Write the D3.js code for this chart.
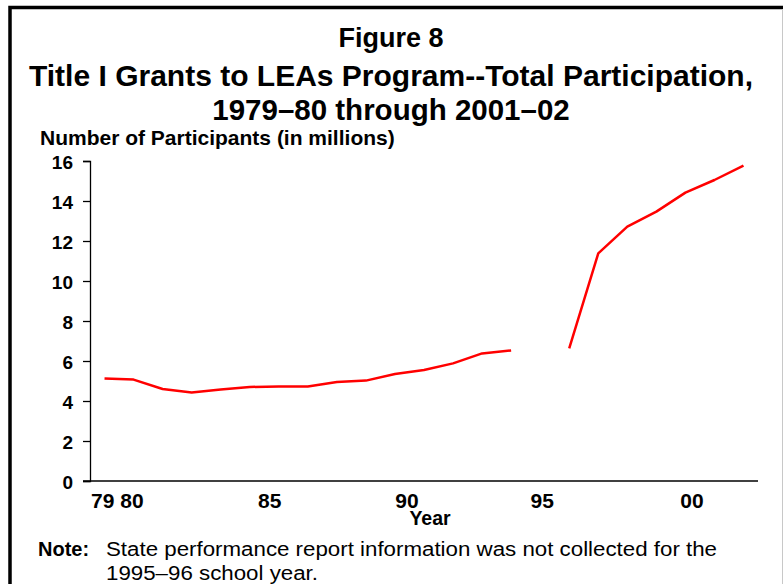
<!DOCTYPE html>
<html>
<style>
body { margin: 0; background: #fff; }
text { font-family: "Liberation Sans", Arial, sans-serif; fill: #000; }
</style>
<body>
<div id="chart"></div>
</body>
</html>

<script src="https://cdn.jsdelivr.net/npm/d3@7"></script>

<script type="text/javascript">

// school years, keyed by spring year (1980 = 1979-80)
var years = [1980, 1981, 1982, 1983, 1984, 1985, 1986, 1987, 1988, 1989, 1990, 1991,
             1992, 1993, 1994, 1995, 1996, 1997, 1998, 1999, 2000, 2001, 2002]
// participants in millions, null = not collected
var participants = [5.13, 5.07, 4.60, 4.43, 4.58, 4.70, 4.73, 4.73, 4.95, 5.02, 5.35, 5.55,
                    5.88, 6.38, 6.53, null, 6.63, 11.38, 12.72, 13.47, 14.42, 15.05, 15.77]
var yTicks = [0, 2, 4, 6, 8, 10, 12, 14, 16]
var xTickYears = [1980, 1985, 1990, 1995, 2000]
var xTickLabels = ["79 80", "85", "90", "95", "00"]

var W = 783, H = 584
var margin = {top: 161, right: 25, bottom: 103, left: 90}

// hand nudges for the year labels (they sit a bit off the data points)
var labelNudge = [0, 20, 12, 2, 6.5]

var svg = d3.select("#chart")
      .append("svg")
      .attr("width", W)
      .attr("height", H)

// frame
svg.append("rect")
   .attr("x", 10).attr("y", 7.5)
   .attr("width", 800).attr("height", 640)
   .attr("fill", "none")
   .attr("stroke", "#000")
   .attr("stroke-width", 3.5)
svg.append("line")
   .attr("x1", 782.5).attr("x2", 782.5)
   .attr("y1", 9).attr("y2", H)
   .attr("stroke", "#c8c8c8")
   .attr("stroke-width", 1)

// titles
var titles = ["Figure 8", "Title I Grants to LEAs Program--Total Participation,", "1979\u201380 through 2001\u201302"]
var titleY = [47, 86, 120]
var titleSize = ["27px", "30px", "29.5px"]
svg.selectAll(".title")
   .data(titles)
   .enter()
   .append("text")
   .attr("class", "title")
   .attr("x", 391)
   .attr("y", (d, i) => titleY[i])
   .attr("text-anchor", "middle")
   .style("font-weight", "bold")
   .style("font-size", (d, i) => titleSize[i])
   .text(d => d)

svg.append("text")
   .attr("x", 40).attr("y", 145)
   .style("font-weight", "bold")
   .style("font-size", "21px")
   .text("Number of Participants (in millions)")

// scales
var x = d3.scaleBand()
      .domain(years)
      .range([margin.left, W - margin.right])
      .padding(0)
var y = d3.scaleLinear()
      .domain([0, 16])
      .range([H - margin.bottom, margin.top])

var cx = d => x(d) + x.bandwidth() / 2

// y axis
var yAxis = svg.append("g").attr("id", "yAxis")
      .attr("transform", "translate(" + margin.left + ",0)")
      .call(d3.axisLeft(y).tickValues(yTicks).tickSize(7).tickPadding(10).tickFormat(d3.format("d")))
yAxis.select(".domain").attr("stroke", "#000").attr("stroke-width", 1.3)
yAxis.selectAll(".tick line").attr("stroke", "#000").attr("stroke-width", 1.3)
yAxis.selectAll("text")
     .attr("dy", "0.4em")
     .style("font-family", "'Liberation Sans', Arial, sans-serif")
     .style("font-weight", "bold")
     .style("font-size", "19px")
     .attr("fill", "#000")

// x axis
var xAxis = svg.append("g").attr("id", "xAxis")
      .attr("transform", "translate(0," + y(0) + ")")
      .call(d3.axisBottom(x).tickValues(xTickYears).tickSize(0).tickPadding(0)
               .tickFormat((d, i) => xTickLabels[i]))
xAxis.select(".domain").remove()
xAxis.append("line")
     .attr("x1", margin.left - 7).attr("x2", W - margin.right)
     .attr("stroke", "#000").attr("stroke-width", 1.3)
xAxis.selectAll("text")
     .attr("y", 27)
     .attr("dy", 0)
     .attr("x", (d, i) => i == 0 ? -x.bandwidth() / 2 + 1 : labelNudge[i])
     .attr("text-anchor", (d, i) => i == 0 ? "start" : "middle")
     .style("font-family", "'Liberation Sans', Arial, sans-serif")
     .style("font-weight", "bold")
     .style("font-size", "21px")
     .attr("fill", "#000")

svg.append("text")
   .attr("x", 430).attr("y", 525)
   .attr("text-anchor", "middle")
   .style("font-weight", "bold")
   .style("font-size", "19.5px")
   .text("Year")

// data line, broken where no data
var data = years.map((yr, i) => ({year: yr, value: participants[i]}))
var line = d3.line()
      .defined(d => d.value != null)
      .x(d => cx(d.year))
      .y(d => y(d.value))

svg.append("path")
   .datum(data)
   .attr("d", line)
   .attr("fill", "none")
   .attr("stroke", "#ff0000")
   .attr("stroke-width", 2.5)
   .attr("stroke-linejoin", "round")

// note
var note = svg.append("g")
note.append("text")
    .attr("x", 38).attr("y", 556)
    .style("font-weight", "bold")
    .style("font-size", "20px")
    .text("Note:")
note.append("text")
    .attr("x", 106).attr("y", 556)
    .attr("textLength", 611)
    .attr("lengthAdjust", "spacingAndGlyphs")
    .style("font-size", "20px")
    .text("State performance report information was not collected for the")
note.append("text")
    .attr("x", 106).attr("y", 580)
    .attr("textLength", 212)
    .attr("lengthAdjust", "spacingAndGlyphs")
    .style("font-size", "20px")
    .text("1995\u201396 school year.")

</script>
